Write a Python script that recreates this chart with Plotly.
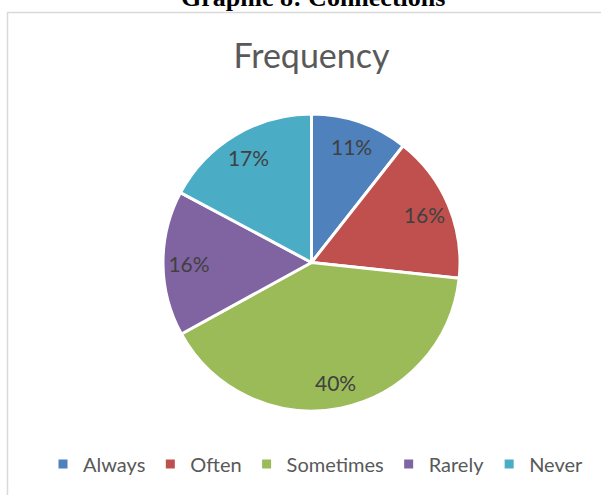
import plotly.graph_objects as go

categories = ["Always", "Often", "Sometimes", "Rarely", "Never"]
values = [10.6, 16.1, 40.3, 15.8, 17.2]
colors = ["#4F81BD", "#C0504D", "#9BBB59", "#8064A2", "#4BACC6"]

W, H = 601, 495
cx, cy, r = 311.5, 262.5, 148.5
dom = dict(x=[(cx - r) / W, (cx + r) / W], y=[(H - cy - r) / H, (H - cy + r) / H])

fig = go.Figure()
fig.add_trace(go.Pie(
    labels=categories,
    values=values,
    sort=False,
    direction="clockwise",
    rotation=0,
    marker=dict(colors=colors, line=dict(color="white", width=3)),
    textinfo="none",
    hoverinfo="label+percent",
    domain=dom,
))
# transparent ring carrying the data labels near the outer edge (like Excel)
fig.add_trace(go.Pie(
    labels=categories,
    values=values,
    sort=False,
    direction="clockwise",
    rotation=0,
    hole=0.65,
    marker=dict(colors=["rgba(0,0,0,0)"] * len(values), line=dict(width=0)),
    texttemplate="%{percent:.0%}",
    textposition="inside",
    insidetextorientation="horizontal",
    textfont=dict(family="Lato", size=21, color="#404040"),
    hoverinfo="skip",
    showlegend=False,
    domain=dom,
))

fig.update_layout(
    width=W, height=H,
    margin=dict(l=0, r=0, t=0, b=0),
    paper_bgcolor="white",
    plot_bgcolor="white",
    title=dict(text="Frequency", x=cx / W, xanchor="center", y=1 - 56 / H, yanchor="middle",
               yref="container", font=dict(family="Lato", size=34, color="#595959")),
    legend=dict(orientation="h", x=316 / W, xanchor="center", y=31 / H, yanchor="middle",
                font=dict(family="Lato", size=20, color="#595959"), traceorder="normal"),
    shapes=[dict(type="rect", xref="paper", yref="paper", x0=7.5 / W, x1=1.2, y0=-0.2, y1=(H - 12.5) / H,
                 line=dict(color="#d9d9d9", width=1.5), layer="below")],
    annotations=[dict(text="<b>Graphic 8: Connections</b>", xref="paper", yref="paper", x=312.5 / W,
                      y=1 - 14 / H, yanchor="bottom", xanchor="center", showarrow=False,
                      font=dict(family="Liberation Serif", size=26, color="black"))],
)

fig.write_html("out.html")
